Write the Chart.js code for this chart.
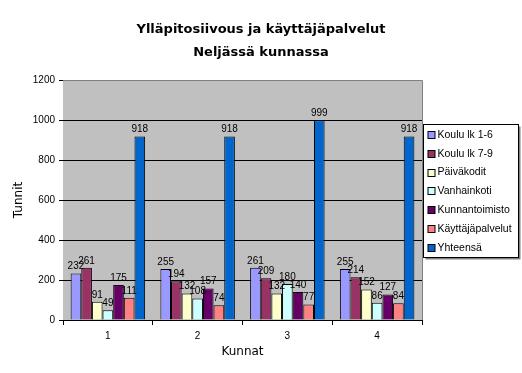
<!DOCTYPE html>
<html>
<head>
<meta charset="utf-8">
<script src="https://cdn.jsdelivr.net/npm/chart.js@4"></script>
<style>
  body { margin: 0; background: #fff; }
  #wrap { width: 522px; height: 373px; }
</style>
</head>
<body>
<div id="wrap"><canvas id="chart" width="522" height="373"></canvas></div>
<script>
// Tiedot
const otsikko = ['Ylläpitosiivous ja käyttäjäpalvelut', 'Neljässä kunnassa'];
const kunnat = ['1', '2', '3', '4'];
const sarjat = ['Koulu lk 1-6', 'Koulu lk 7-9', 'Päiväkodit', 'Vanhainkoti', 'Kunnantoimisto', 'Käyttäjäpalvelut', 'Yhteensä'];
const koulu16 = [232, 255, 261, 255];
const koulu79 = [261, 194, 209, 214];
const paivakodit = [91, 132, 132, 152];
const vanhainkoti = [49, 108, 180, 86];
const kunnantoimisto = [175, 157, 140, 127];
const kayttajapalvelut = [111, 74, 77, 84];
const yhteensa = [918, 918, 999, 918];
const yTicks = [0, 200, 400, 600, 800, 1000, 1200];

const varit = ['#9999FF', '#993366', '#FFFFCC', '#CCFFFF', '#660066', '#FF8080', '#0066CC'];
const arvot = [koulu16, koulu79, paivakodit, vanhainkoti, kunnantoimisto, kayttajapalvelut, yhteensa];

// Harmaa piirtoalue ja reunat
const plotBg = {
    id: 'plotBg',
    beforeDatasetsDraw(chart) {
        const { ctx, chartArea: a } = chart;
        ctx.save();
        ctx.fillStyle = '#C0C0C0';
        ctx.fillRect(a.left, a.top, a.right - a.left, a.bottom - a.top);
        // vaakaviivat harmaan päälle
        const y = chart.scales.y;
        ctx.strokeStyle = '#000';
        ctx.lineWidth = 1;
        yTicks.forEach(t => {
            if (t === 0 || t === 1200) return;
            const py = Math.round(y.getPixelForValue(t)) + 0.5;
            ctx.beginPath();
            ctx.moveTo(a.left, py);
            ctx.lineTo(a.right, py);
            ctx.stroke();
        });
        ctx.strokeStyle = '#808080';
        ctx.beginPath();
        ctx.moveTo(a.left, Math.round(a.top) + 0.5);
        ctx.lineTo(Math.round(a.right) + 0.5, Math.round(a.top) + 0.5);
        ctx.lineTo(Math.round(a.right) + 0.5, a.bottom);
        ctx.stroke();
        ctx.restore();
    }
};

// Arvot pylväiden päälle
const dataLabels = {
    id: 'dataLabels',
    afterDatasetsDraw(chart) {
        const { ctx } = chart;
        ctx.save();
        ctx.font = '10px "Liberation Sans", Arial, sans-serif';
        ctx.fillStyle = '#000';
        ctx.textAlign = 'center';
        ctx.textBaseline = 'bottom';
        chart.data.datasets.forEach((ds, i) => {
            chart.getDatasetMeta(i).data.forEach((bar, j) => {
                ctx.fillText(ds.data[j], bar.x, bar.y - 2);
            });
        });
        ctx.restore();
    }
};

// Otsikko koko kuvan keskelle
const titlePlugin = {
    id: 'titlePlugin',
    afterDraw(chart) {
        const { ctx } = chart;
        ctx.save();
        ctx.font = 'bold 13px "DejaVu Sans", sans-serif';
        ctx.fillStyle = '#000';
        ctx.textAlign = 'center';
        ctx.textBaseline = 'middle';
        otsikko.forEach((rivi, i) => ctx.fillText(rivi, chart.width / 2, 30 + i * 23));
        ctx.restore();
    }
};

// Selite laatikossa
const legendBox = {
    id: 'legendBox',
    afterDraw(chart) {
        const { ctx, chartArea: a } = chart;
        const left = Math.round(a.right) + 1.5, top = 124.5, w = 95, h = 133;
        ctx.save();
        ctx.fillStyle = '#808080';
        ctx.fillRect(left + 2, top + 2, w, h);
        ctx.fillStyle = '#fff';
        ctx.fillRect(left, top, w, h);
        ctx.strokeStyle = '#000';
        ctx.lineWidth = 1;
        ctx.strokeRect(left, top, w, h);
        ctx.font = '10.5px "Liberation Sans", Arial, sans-serif';
        ctx.textBaseline = 'middle';
        chart.data.datasets.forEach((ds, i) => {
            const cy = 135 + i * 18.8;
            ctx.fillStyle = ds.backgroundColor;
            ctx.fillRect(left + 4.5, Math.round(cy) - 3.5, 7, 7);
            ctx.strokeStyle = '#000';
            ctx.strokeRect(left + 4.5, Math.round(cy) - 3.5, 7, 7);
            ctx.fillStyle = '#000';
            ctx.fillText(ds.label, left + 14, cy);
        });
        ctx.restore();
    }
};

const chart = new Chart(document.getElementById('chart').getContext('2d'), {
    type: 'bar',
    data: {
        labels: kunnat,
        datasets: sarjat.map((nimi, i) => ({
            label: nimi,
            data: arvot[i],
            backgroundColor: varit[i],
            borderColor: '#000',
            borderWidth: 1,
            categoryPercentage: 0.83,
            barPercentage: 1
        }))
    },
    options: {
        responsive: false,
        animation: false,
        layout: { padding: { left: 0, right: 100, top: 80, bottom: 0 } },
        plugins: {
            legend: { display: false },
            tooltip: { enabled: false },
            title: { display: false }
        },
        scales: {
            x: {
                grid: { drawOnChartArea: false, color: '#000', tickLength: 5 },
                border: { color: '#000' },
                ticks: { color: '#000', font: { family: '"Liberation Sans", Arial', size: 10 }, padding: 5 },
                title: {
                    display: true, text: 'Kunnat', color: '#000',
                    font: { family: '"DejaVu Sans", sans-serif', size: 12 },
                    padding: { top: 14, bottom: 14 }
                },
                afterFit(scale) { scale.height = 53; }
            },
            y: {
                min: 0, max: 1200,
                afterBuildTicks(scale) { scale.ticks = yTicks.map(v => ({ value: v })); },
                grid: { drawOnChartArea: false, color: '#000', tickLength: 4 },
                border: { color: '#000' },
                ticks: {
                    color: '#000', font: { family: '"Liberation Sans", Arial', size: 10 }, padding: 4,
                    callback: v => String(v)
                },
                title: {
                    display: true, text: 'Tunnit', color: '#000',
                    font: { family: '"DejaVu Sans", sans-serif', size: 12 },
                    padding: { top: 12, bottom: 12 }
                },
                afterFit(scale) { scale.width = 63; }
            }
        }
    },
    plugins: [plotBg, dataLabels, titlePlugin, legendBox]
});
</script>
</body>
</html>
